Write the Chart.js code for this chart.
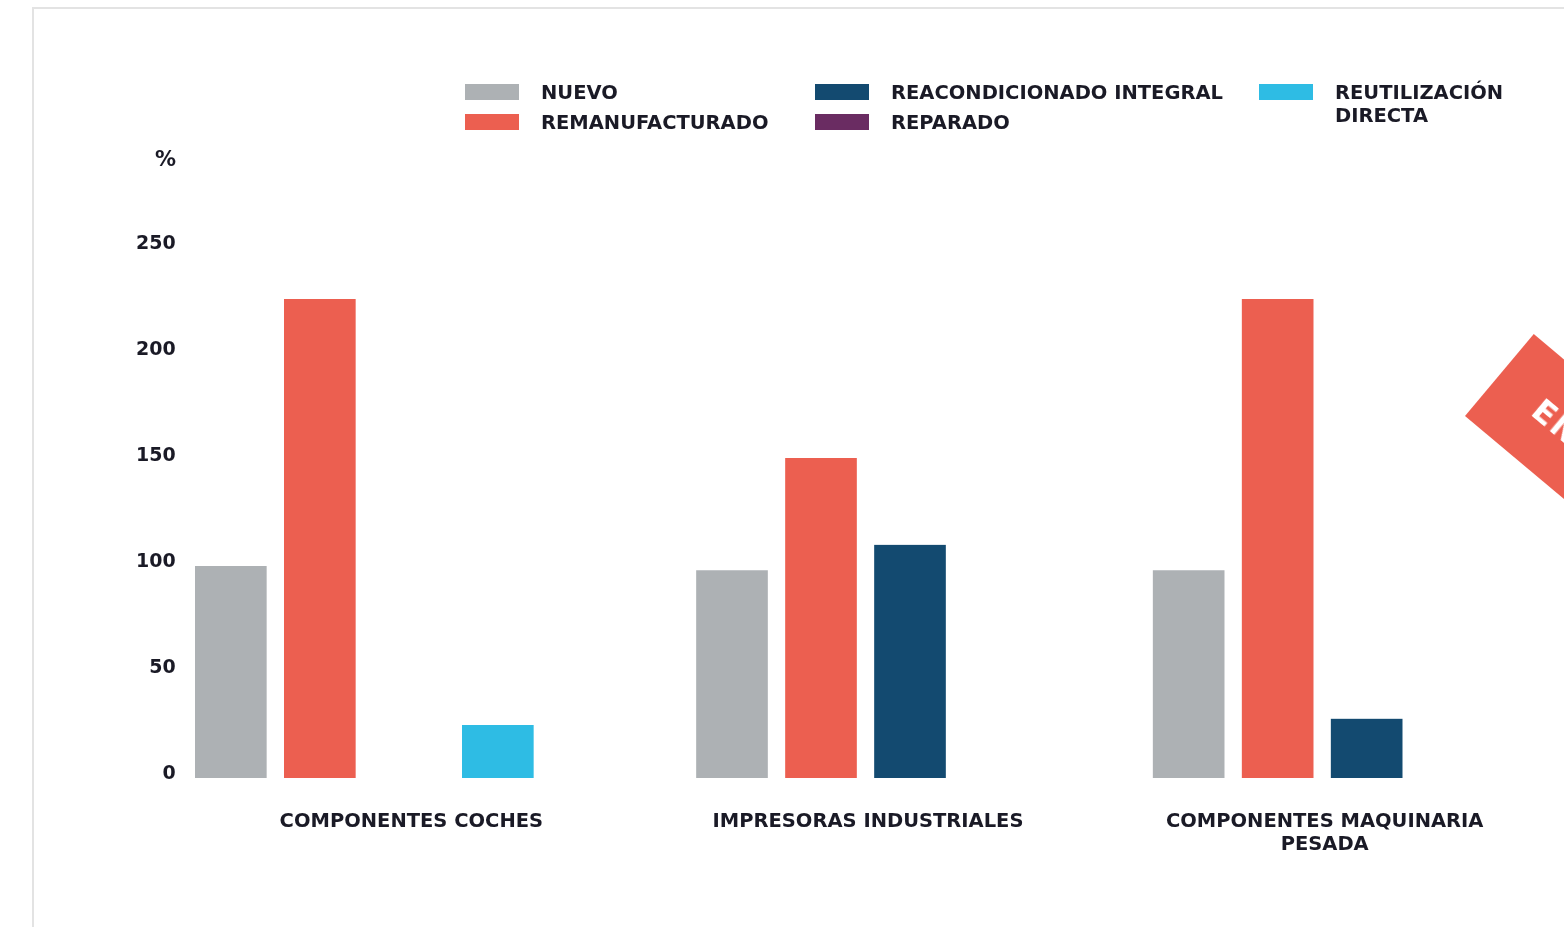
<!DOCTYPE html>
<html lang="es">
<head>
<meta charset="utf-8">
<title>Gasto de materiales por proceso</title>
<script src="https://cdn.jsdelivr.net/npm/chart.js@4.4.1/dist/chart.umd.min.js"></script>
<style>
  html, body { margin: 0; padding: 0; background: #fff; }
  body {
    width: 1564px; height: 927px; position: relative; overflow: hidden;
    font-family: 'DejaVu Sans', sans-serif; font-weight: bold; color: #1a1a26;
  }
  #marco {
    position: absolute; left: 32px; top: 7px; width: 1700px; height: 1000px;
    border-left: 2px solid #e3e3e3; border-top: 2px solid #e3e3e3;
  }
  #lienzo { position: absolute; left: 0; top: 0; }
  .col { position: absolute; top: 84px; }
  .item { display: flex; align-items: flex-start; min-height: 30px; }
  .muestra { width: 54px; height: 16px; margin-right: 22px; flex: none; }
  .texto { font-size: 19.5px; line-height: 23px; margin-top: -3.5px; white-space: nowrap; }
  .col.estrecha .texto { white-space: normal; width: 185px; }
  #unidad {
    position: absolute; left: 110px; width: 66px; top: 148px;
    text-align: right; font-size: 21px; line-height: 23px;
  }
  #etiqueta {
    position: absolute; left: 1465px; top: 309px; width: 260px; height: 107px;
    background: #ec5f50; color: #fff; transform-origin: 0 107px; transform: rotate(40deg);
    font-size: 32px; line-height: 107px; padding-left: 48px; box-sizing: border-box;
    letter-spacing: 2px; white-space: nowrap; overflow: hidden;
  }
</style>
</head>
<body>
<div id="marco"></div>
<canvas id="lienzo" width="1564" height="927"></canvas>
<div id="leyenda"></div>
<div id="unidad">%</div>
<div id="etiqueta">EN</div>

<script>
const categorias = [['COMPONENTES COCHES'], ['IMPRESORAS INDUSTRIALES'], ['COMPONENTES MAQUINARIA', 'PESADA']];
const series = ['NUEVO', 'REMANUFACTURADO', 'REACONDICIONADO INTEGRAL', 'REPARADO', 'REUTILIZACIÓN DIRECTA'];
const colores = ['#adb1b4', '#ec5f50', '#134a70', '#6a2c62', '#2ebce4'];

// valores en % (null = sin barra en ese grupo)
const nuevo = [100, 98, 98];
const remanufacturado = [226, 151, 226];
const reacondicionado = [0, 110, 28];
const reparado = [null, null, null];
const reutilizacion = [25, null, null];

const ticksY = [0, 50, 100, 150, 200, 250];

const colorTexto = '#1a1a26';
const fuente = 'DejaVu Sans';

function construirLeyenda(chart) {
    const leyenda = document.getElementById('leyenda');
    leyenda.innerHTML = '';
    const columnas = [[0, 1], [2, 3], [4]];
    const posX = [465, 815, 1259];

    columnas.forEach((indices, c) => {
        const col = document.createElement('div');
        col.className = 'col' + (indices.length === 1 ? ' estrecha' : '');
        col.style.left = posX[c] + 'px';
        indices.forEach(i => {
            const ds = chart.data.datasets[i];
            const item = document.createElement('div');
            item.className = 'item';
            const muestra = document.createElement('span');
            muestra.className = 'muestra';
            muestra.style.background = ds.backgroundColor;
            const texto = document.createElement('span');
            texto.className = 'texto';
            texto.textContent = ds.label;
            item.appendChild(muestra);
            item.appendChild(texto);
            col.appendChild(item);
        });
        leyenda.appendChild(col);
    });
}

const valores = [nuevo, remanufacturado, reacondicionado, reparado, reutilizacion];

const ctx = document.getElementById('lienzo').getContext('2d');
const grafico = new Chart(ctx, {
    type: 'bar',
    data: {
        labels: categorias,
        datasets: series.map((nombre, i) => ({
            label: nombre,
            data: valores[i],
            backgroundColor: colores[i]
        }))
    },
    options: {
        responsive: false,
        animation: false,
        layout: { padding: { left: 136, right: 58, top: 248, bottom: 0 } },
        datasets: {
            bar: {
                skipNull: true,
                barThickness: 89,
                borderWidth: { left: 9, right: 9, top: 0, bottom: 0 },
                borderColor: '#ffffff',
                borderSkipped: false
            }
        },
        plugins: {
            legend: { display: false },
            tooltip: { enabled: false }
        },
        scales: {
            x: {
                grid: { display: false, drawTicks: false },
                border: { display: false },
                ticks: {
                    color: colorTexto,
                    font: { family: fuente, size: 19.5, weight: 'bold', lineHeight: 1.18 },
                    padding: 32,
                    labelOffset: 47,
                    maxRotation: 0,
                    autoSkip: false
                },
                afterFit: (escala) => { escala.height = 149; }
            },
            y: {
                min: 0,
                max: 250,
                grid: { display: false, drawTicks: false },
                border: { display: false },
                ticks: {
                    mirror: true,
                    crossAlign: 'far',
                    padding: 0,
                    labelOffset: -4,
                    color: colorTexto,
                    font: { family: fuente, size: 19, weight: 'bold' }
                },
                afterBuildTicks: (escala) => { escala.ticks = ticksY.map(v => ({ value: v })); },
                afterFit: (escala) => { escala.width = 0; }
            }
        }
    }
});

construirLeyenda(grafico);
</script>
</body>
</html>
